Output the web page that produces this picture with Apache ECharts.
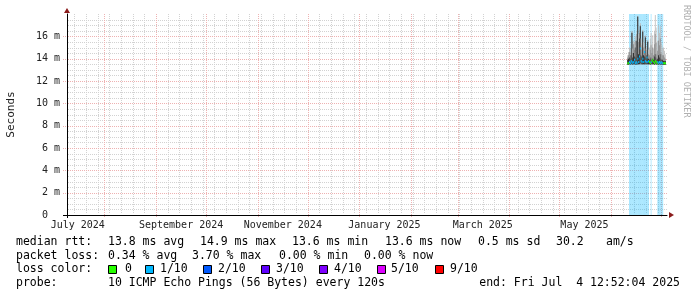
<!DOCTYPE html>
<html><head><meta charset="utf-8">
<script src="https://cdn.jsdelivr.net/npm/echarts@6/dist/echarts.min.js"></script>
<style>html,body{margin:0;padding:0;background:#fff}#c{width:697px;height:297px}</style>
</head><body><div id="c"></div>
<script>
// ---------- data ----------
const startTime = '2024-07-09T12:52:04';
const endTime   = '2025-07-04T12:52:04';
const times = [
 '2025-06-11T00:00','2025-06-11T12:00','2025-06-12T00:00','2025-06-12T12:00','2025-06-13T00:00','2025-06-13T12:00',
 '2025-06-14T00:00','2025-06-14T12:00','2025-06-15T00:00','2025-06-15T12:00','2025-06-16T00:00','2025-06-16T12:00',
 '2025-06-17T00:00','2025-06-17T12:00','2025-06-18T00:00','2025-06-18T12:00','2025-06-19T00:00','2025-06-19T12:00',
 '2025-06-20T00:00','2025-06-20T12:00','2025-06-21T00:00','2025-06-21T12:00','2025-06-22T00:00','2025-06-22T12:00',
 '2025-06-23T00:00','2025-06-23T12:00','2025-06-24T00:00','2025-06-24T12:00','2025-06-25T00:00','2025-06-25T12:00',
 '2025-06-26T00:00','2025-06-26T12:00','2025-06-27T00:00','2025-06-27T12:00','2025-06-28T00:00','2025-06-28T12:00',
 '2025-06-29T00:00','2025-06-29T12:00','2025-06-30T00:00','2025-06-30T12:00','2025-07-01T00:00','2025-07-01T12:00',
 '2025-07-02T00:00','2025-07-02T12:00','2025-07-03T00:00','2025-07-03T12:00'
];
const medianMs = [13.6,13.6,13.7,13.6,13.8,13.7,13.6,13.7,13.9,13.6,13.7,13.6,14.0,13.7,14.2,14.9,13.8,13.7,14.0,13.7,
                  14.6,13.8,13.7,14.1,13.7,13.8,13.7,13.6,13.7,13.8,13.9,13.7,13.6,13.8,13.7,13.6,13.7,13.6,13.7,13.6,
                  13.7,13.6,13.6,13.6,13.6,13.6];
const lowMs    = [13.45,13.45,13.5,13.45,13.5,13.5,13.45,13.5,13.5,13.45,13.5,13.45,13.5,13.5,13.5,13.6,13.5,13.5,13.5,13.5,
                  13.5,13.5,13.5,13.5,13.5,13.5,13.5,13.45,13.5,13.5,13.5,13.5,13.45,13.5,13.5,13.45,13.5,13.45,13.5,13.45,
                  13.5,13.45,13.45,13.45,13.45,13.45];
const darkTopMs= [13.9,14.0,14.1,14.0,14.3,16.3,14.1,14.5,14.2,15.0,14.1,15.6,17.75,14.4,15.8,16.9,14.3,14.2,16.4,14.3,
                  14.2,15.9,14.1,14.3,15.5,14.0,13.9,14.0,14.1,13.9,14.0,13.9,14.2,14.4,14.1,13.9,14.0,14.3,14.1,14.4,
                  14.0,13.9,13.9,13.8,13.8,13.8];
const midTopMs = [14.1,14.3,14.6,14.3,14.9,16.4,14.5,15.3,14.8,15.6,14.6,16.2,17.8,15.5,16.3,17.0,15.2,14.8,16.5,15.0,
                  14.7,16.0,14.5,14.8,15.6,14.4,14.3,14.8,15.2,14.5,15.0,14.3,15.3,16.2,15.4,14.4,14.7,15.6,15.2,15.8,
                  14.6,14.4,14.3,14.3,14.1,14.0];
const highMs   = [14.3,14.6,15.0,14.6,15.3,16.5,14.9,15.6,15.5,16.0,15.2,16.5,17.85,16.2,16.6,17.2,15.8,15.4,16.6,15.5,
                  15.1,16.1,14.9,15.1,15.7,14.8,15.0,15.8,16.3,15.3,16.1,14.9,16.5,17.9,16.8,15.1,15.6,17.0,16.3,16.9,
                  15.5,15.2,14.9,15.0,14.7,14.4];
const lossPct  = [0,0,0.5,0.4,0.6,0.5,0.4,0.5,0.6,0.4,0.5,0.4,3.7,0.5,0.6,0.8,0.4,0.5,0.6,0.4,
                  0.5,0.4,0.5,0.4,0.5,0.3,0,0,0.3,0,0,0,0,0,0,0,0.4,0.5,0.4,0.5,
                  0.4,0.3,0.4,0,0,0];
const monthLabels     = ['July 2024','September 2024','November 2024','January 2025','March 2025','May 2025'];
const monthLabelDates = ['2024-07-16T00:00','2024-09-16T00:00','2024-11-16T00:00','2025-01-16T00:00','2025-03-16T00:00','2025-05-16T00:00'];
const yTickValues = [0,2,4,6,8,10,12,14,16];
const yTickLabels = ['0  ','2 m','4 m','6 m','8 m','10 m','12 m','14 m','16 m'];
const yMax = 18;
const lossColors = ['#26ff00','#00b8ff','#0059ff','#5e00ff','#7e00ff','#dd00ff','#ff0000'];
const lossNames  = ['0','1/10','2/10','3/10','4/10','5/10','9/10'];

// ---------- helpers ----------
const ts = s => new Date(s).getTime();
const tStart = ts(startTime), tEnd = ts(endTime);
const DAY = 86400000;
const stepMs = 12 * 3600000;
const FONT = '"DejaVu Sans Mono", monospace';

// grid line dates (calendar rules)
const weekLines = [];
for (let d = new Date('2024-07-14T00:00'); d.getTime() < tEnd; d = new Date(d.getTime() + 7 * DAY)) weekLines.push([d.getTime(), 0]);
const monthLines = [];
for (let y = 2024, m = 7; ; m++) { if (m > 11) { m = 0; y++; } const d = new Date(y, m, 1); if (d.getTime() > tEnd) break; monthLines.push([d.getTime(), 1]); }
const hLines = [];
for (let v = 0.5; v < yMax; v += 0.5) hLines.push([tStart, v, (v % 2 === 0) ? 1 : 0]);

const GRAY = '#d2d2d2', RED = '#eeb2b2';

function vLine(params, api) {
  const cs = params.coordSys;
  const major = api.value(1);
  const x = Math.round(api.coord([api.value(0), 0])[0]) + 0.5;
  return { type: 'line', silent: true,
    shape: { x1: x, y1: cs.y, x2: x, y2: cs.y + cs.height + (major ? 3 : -1) },
    style: { stroke: major ? RED : GRAY, lineWidth: 1, lineDash: [1, 1] } };
}
function hLine(params, api) {
  const cs = params.coordSys;
  const major = api.value(2);
  const y = Math.round(api.coord([tStart, api.value(1)])[1]) + 0.5;
  const segs = [];
  if (major) segs.push({ type: 'line', shape: { x1: cs.x - 4, y1: y, x2: cs.x - 1, y2: y }, style: { stroke: RED, lineWidth: 1, lineDash: [1, 1] } });
  segs.push({ type: 'line', shape: { x1: cs.x + 1, y1: y, x2: cs.x + cs.width, y2: y },
    style: { stroke: major ? RED : GRAY, lineWidth: 1, lineDash: [1, 1] } });
  return { type: 'group', silent: true, children: segs };
}
function lossBucket(p) {
  if (p <= 0) return 0;
  const n = p / 10;
  if (n <= 1) return 1; if (n <= 2) return 2; if (n <= 3) return 3; if (n <= 4) return 4; if (n <= 5) return 5; return 6;
}
function bgItem(params, api) {
  const loss = api.value(1);
  if (!(loss > 0)) return null;
  const cs = params.coordSys;
  const w = api.size([stepMs, 0])[0];
  const x = api.coord([api.value(0), 0])[0] - w / 2;
  return { type: 'rect', silent: true, shape: { x: x, y: cs.y, width: w, height: cs.height },
    style: { fill: 'rgba(0,184,255,0.35)' } };
}
function smokeItem(params, api) {
  const t = api.value(0);
  const w = api.size([stepMs, 0])[0];
  const xL = api.coord([t, 0])[0] - w / 2;
  const yLo = api.coord([t, api.value(1)])[1];
  const yD = api.coord([t, api.value(2)])[1];
  const yM = api.coord([t, api.value(3)])[1];
  const yH = api.coord([t, api.value(4)])[1];
  return { type: 'group', silent: true, children: [
    { type: 'rect', shape: { x: xL, y: yH, width: w, height: yLo - yH }, style: { fill: '#bdbdbd' } },
    { type: 'rect', shape: { x: xL, y: yM, width: w, height: yLo - yM }, style: { fill: '#8a8a8a' } },
    { type: 'rect', shape: { x: xL, y: yD, width: w, height: yLo - yD }, style: { fill: '#1e1e1e' } }
  ] };
}
function medianItem(params, api) {
  const t = api.value(0);
  const w = api.size([stepMs, 0])[0];
  const xL = api.coord([t, 0])[0] - w / 2;
  const y = api.coord([t, api.value(1)])[1];
  return { type: 'rect', silent: true, shape: { x: xL, y: y - 1, width: w + 0.2, height: 2 },
    style: { fill: lossColors[lossBucket(api.value(2))] } };
}

const labelTs = monthLabelDates.map(ts);

const chart = echarts.init(document.getElementById('c'), null, { renderer: 'canvas' });
chart.setOption({
  animation: false,
  backgroundColor: '#fff',
  grid: { left: 67, right: 30, top: 14, bottom: 82, containLabel: false, outerBoundsMode: 'none' },
  xAxis: {
    type: 'value', min: tStart, max: tEnd, scale: true, z: 10,
    axisLine: { show: true, onZero: false, lineStyle: { color: '#000', width: 1 } },
    axisTick: { show: false },
    splitLine: { show: false },
    axisLabel: {
      customValues: labelTs,
      formatter: v => { const i = labelTs.indexOf(v); return i >= 0 ? monthLabels[i] : ''; },
      fontFamily: FONT, fontSize: 10, color: '#222', margin: 5, hideOverlap: false
    }
  },
  yAxis: {
    type: 'value', min: 0, max: yMax, z: 10,
    name: 'Seconds', nameLocation: 'middle', nameGap: 50, nameRotate: 90,
    nameTextStyle: { fontFamily: FONT, fontSize: 11, color: '#222' },
    axisLine: { show: true, onZero: false, lineStyle: { color: '#000', width: 1 } },
    axisTick: { show: false },
    splitLine: { show: false },
    axisLabel: {
      customValues: yTickValues,
      formatter: v => { const i = yTickValues.indexOf(v); return i >= 0 ? yTickLabels[i] : ''; },
      fontFamily: FONT, fontSize: 10, color: '#222', margin: 7
    }
  },
  series: [
    { type: 'custom', name: 'weekGrid', renderItem: vLine, data: weekLines, encode: { x: 0 }, z: 1, clip: false },
    { type: 'custom', name: 'hGrid', renderItem: hLine, data: hLines, encode: { x: 0, y: 1 }, z: 1, clip: false },
    { type: 'custom', name: 'monthGrid', renderItem: vLine, data: monthLines, encode: { x: 0 }, z: 1, clip: false },
    { type: 'custom', name: 'lossBg', renderItem: bgItem, data: times.map((t, i) => [ts(t), lossPct[i]]), encode: { x: 0 }, z: 2 },
    { type: 'custom', name: 'smoke', renderItem: smokeItem,
      data: times.map((t, i) => [ts(t), lowMs[i], darkTopMs[i], midTopMs[i], highMs[i]]), encode: { x: 0, y: [1, 2, 3, 4] }, z: 3 },
    { type: 'custom', name: 'median', renderItem: medianItem,
      data: times.map((t, i) => [ts(t), medianMs[i], lossPct[i]]), encode: { x: 0, y: 1 }, z: 4 }
  ]
});

// ---------- decorations: arrows, legend text ----------
const ax0 = chart.convertToPixel({ xAxisIndex: 0 }, tStart);
const ax1 = chart.convertToPixel({ xAxisIndex: 0 }, tEnd);
const ay0 = chart.convertToPixel({ yAxisIndex: 0 }, 0);
const ay1 = chart.convertToPixel({ yAxisIndex: 0 }, yMax);
const ARROW = '#8b1c1c';
const txt = (x, y, s, align) => ({ type: 'text', x: x, y: y, silent: true,
  style: { text: s, font: '11.5px ' + FONT, fill: '#000', textAlign: align || 'left', align: align || 'left', textVerticalAlign: 'middle', verticalAlign: 'middle' } });
const g = [
  { type: 'line', silent: true, shape: { x1: ax0 - 4, y1: Math.round(ay0) + 0.5, x2: ax0, y2: Math.round(ay0) + 0.5 }, style: { stroke: '#000', lineWidth: 1 } },
  { type: 'line', silent: true, shape: { x1: Math.round(ax0) + 0.5, y1: ay0, x2: Math.round(ax0) + 0.5, y2: ay0 + 3 }, style: { stroke: '#000', lineWidth: 1 } },
  { type: 'polygon', silent: true, shape: { points: [[ax0, ay1 - 6], [ax0 - 3, ay1 - 1], [ax0 + 3, ay1 - 1]] }, style: { fill: ARROW } },
  { type: 'polygon', silent: true, shape: { points: [[ax1 + 7, ay0], [ax1 + 2, ay0 - 3], [ax1 + 2, ay0 + 3]] }, style: { fill: ARROW } },
  { type: 'text', x: 686, y: 5, rotation: -Math.PI / 2, silent: true,
    style: { text: 'RRDTOOL / TOBI OETIKER', font: '8.5px ' + FONT, fill: '#b0b0b0', textVerticalAlign: 'middle', verticalAlign: 'middle' } }
];
const rows = [
  [242, [[16, 'median rtt:'], [108, '13.8 ms avg'], [200, '14.9 ms max'], [292, '13.6 ms min'], [385, '13.6 ms now'], [478, '0.5 ms sd'], [556, '30.2'], [606, 'am/s']]],
  [256, [[16, 'packet loss:'], [108, '0.34 % avg'], [192, '3.70 % max'], [279, '0.00 % min'], [364, '0.00 % now']]],
  [269.5, [[16, 'loss color:']]],
  [283, [[16, 'probe:'], [108, '10 ICMP Echo Pings (56 Bytes) every 120s']]]
];
rows.forEach(([y, segs]) => segs.forEach(([x, s]) => g.push(txt(x, y, s))));
g.push(txt(680, 283, 'end: Fri Jul  4 12:52:04 2025', 'right'));
const swX = [108, 145, 203, 261, 319, 377, 435];
const swTextX = [125, 160, 218, 276, 334, 391, 450];
lossColors.forEach((c, i) => {
  g.push({ type: 'rect', silent: true, shape: { x: swX[i] + 0.5, y: 265.5, width: 8, height: 8 }, style: { fill: c, stroke: '#000', lineWidth: 1 } });
  g.push(txt(swTextX[i], 269.5, lossNames[i]));
});
chart.setOption({ graphic: g });
</script>
</body></html>
